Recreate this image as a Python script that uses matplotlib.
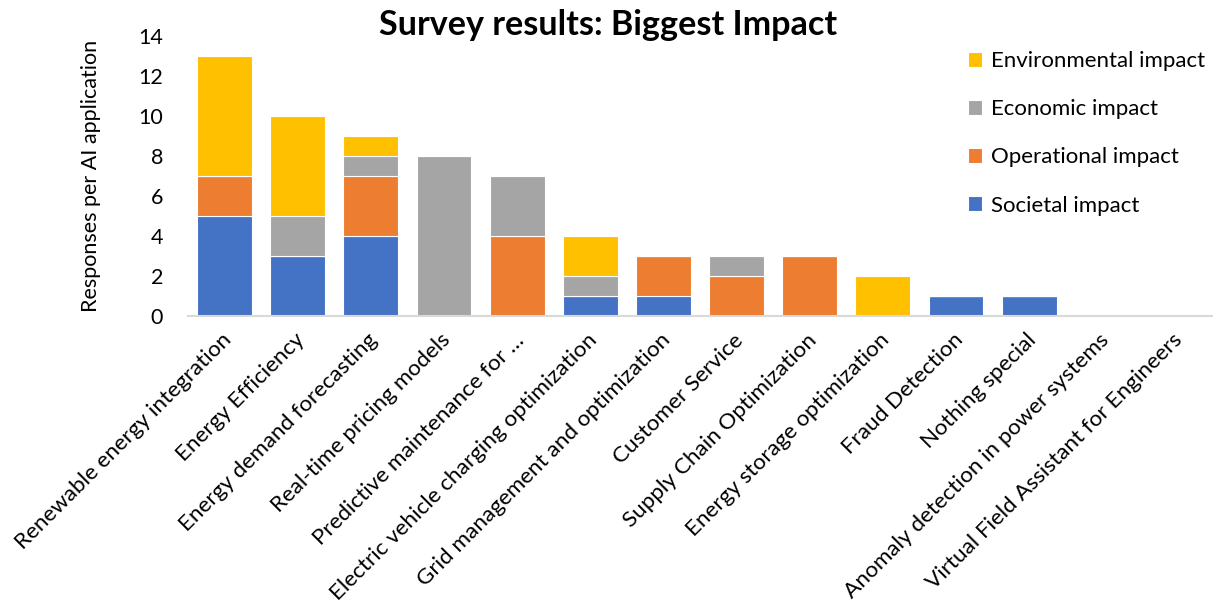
import matplotlib
matplotlib.use("Agg")
import matplotlib.pyplot as plt
import matplotlib.transforms as mtransforms
import numpy as np

categories = [
    "Renewable energy integration",
    "Energy Efficiency",
    "Energy demand forecasting",
    "Real-time pricing models",
    "Predictive maintenance for …",
    "Electric vehicle charging optimization",
    "Grid management and optimization",
    "Customer Service",
    "Supply Chain Optimization",
    "Energy storage optimization",
    "Fraud Detection",
    "Nothing special",
    "Anomaly detection in power systems",
    "Virtual Field Assistant for Engineers",
]
societal = [5, 3, 4, 0, 0, 1, 1, 0, 0, 0, 1, 1, 0, 0]
operational = [2, 0, 3, 0, 4, 0, 2, 2, 3, 0, 0, 0, 0, 0]
economic = [0, 2, 1, 8, 3, 1, 0, 1, 0, 0, 0, 0, 0, 0]
environmental = [6, 5, 1, 0, 0, 2, 0, 0, 0, 2, 0, 0, 0, 0]

series = [
    ("Societal impact", societal, "#4472C4"),
    ("Operational impact", operational, "#ED7D31"),
    ("Economic impact", economic, "#A5A5A5"),
    ("Environmental impact", environmental, "#FFC000"),
]

plt.rcParams["font.family"] = ["Lato", "DejaVu Sans"]

fig = plt.figure(figsize=(12.13, 6.05), dpi=100)
ax = fig.add_axes([188 / 1213, 1 - 316 / 605, (1212 - 188) / 1213, 280 / 605])

x = np.arange(len(categories))
bottom = np.zeros(len(categories))
handles = []
for name, vals, color in series:
    vals = np.array(vals, dtype=float)
    b = ax.bar(x, vals, width=0.75, bottom=bottom, color=color,
               edgecolor="white", linewidth=0.8, label=name)
    handles.append(b)
    bottom += vals

ax.set_xlim(-0.5, len(categories) - 0.5)
ax.set_ylim(0, 14)
ax.set_yticks(range(0, 15, 2))
ax.tick_params(axis="y", length=0, labelsize=15.5, pad=18)
ax.tick_params(axis="x", length=0, pad=10)
ax.set_xticks(x)
ax.set_xticklabels(categories, rotation=45, ha="right", va="top",
                   rotation_mode="anchor", fontsize=16.2)
# nudge the slanted category labels slightly to the left
shift = mtransforms.ScaledTranslation(-2.5 / 72, 0, fig.dpi_scale_trans)
for lbl in ax.get_xticklabels():
    lbl.set_transform(lbl.get_transform() + shift)

for side in ("top", "right", "left"):
    ax.spines[side].set_visible(False)
ax.spines["bottom"].set_color("#D9D9D9")
ax.spines["bottom"].set_linewidth(1.5)

ax.set_ylabel("Responses per AI application", fontsize=15.5, labelpad=27)

fig.text(608 / 1213, 1 - 25 / 605, "Survey results: Biggest Impact",
         ha="center", va="center", fontsize=24.6, fontweight="bold")

leg = ax.legend(handles[::-1], [s[0] for s in series][::-1],
                loc="upper left", bbox_to_anchor=(948 / 1213, 1 - 31 / 605),
                bbox_transform=fig.transFigure, frameon=False, fontsize=16,
                handlelength=0.65, handleheight=0.65, handletextpad=0.4,
                labelspacing=1.27)

fig.savefig("out.png", dpi=100)
